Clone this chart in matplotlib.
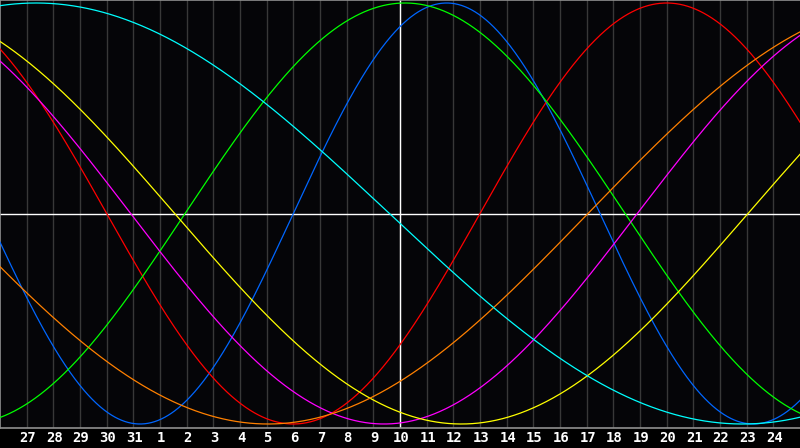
import numpy as np
import matplotlib
matplotlib.use("Agg")
import matplotlib.pyplot as plt

# day numbers along the bottom (index 0 = left edge, the 26th)
day_labels = [26, 27, 28, 29, 30, 31, 1, 2, 3, 4, 5, 6, 7, 8, 9, 10,
              11, 12, 13, 14, 15, 16, 17, 18, 19, 20, 21, 22, 23, 24, 25]
today_index = 15

# cycle lengths (days), day index of a peak, and colour
periods = [23, 28, 33, 38, 43, 48, 53]
peak_at = [16.75, 25.0, 15.19, -4.6, -4.2, 34.05, 1.35]
colors = ['#0066ff', '#ff0000', '#00ff00', '#ff00ff', '#ffff00', '#ff8000', '#00ffff']

W, H = 800, 448
fig = plt.figure(figsize=(W / 100, H / 100), dpi=100, facecolor='#000000')
ax = fig.add_axes([0, (H - 428) / H, 1, 428 / H])
ax.set_facecolor('#050508')

ndays = len(day_labels) - 1
ax.set_xlim(0, ndays)
ax.set_ylim(-(428 - 213.5) / 210.5, 213.5 / 210.5)

for i in range(1, ndays):
    ax.axvline(i, color='#383838', lw=1.0, zorder=1)

ax.axhline(0, color='#ffffff', lw=1.0, zorder=2)
ax.axvline(today_index, color='#ffffff', lw=1.0, zorder=2)

t = np.linspace(0, ndays, 1200)
for p, pk, c in zip(periods, peak_at, colors):
    ax.plot(t, np.cos(2 * np.pi * (t - pk) / p), color=c, lw=0.9, zorder=3)

ax.set_xticks([])
ax.set_yticks([])
for side in ['left', 'top', 'bottom']:
    ax.spines[side].set_color('#909090')
    ax.spines[side].set_linewidth(1.2)
ax.spines['right'].set_visible(False)

for i in range(1, ndays):
    fig.text(i / ndays + 1 / W, 10 / H, str(day_labels[i]), color='white',
             ha='center', va='center', fontsize=10, fontweight='bold',
             family=['DejaVu Sans Mono', 'DejaVu Sans'])

fig.savefig('out.png', dpi=100, facecolor=fig.get_facecolor())
